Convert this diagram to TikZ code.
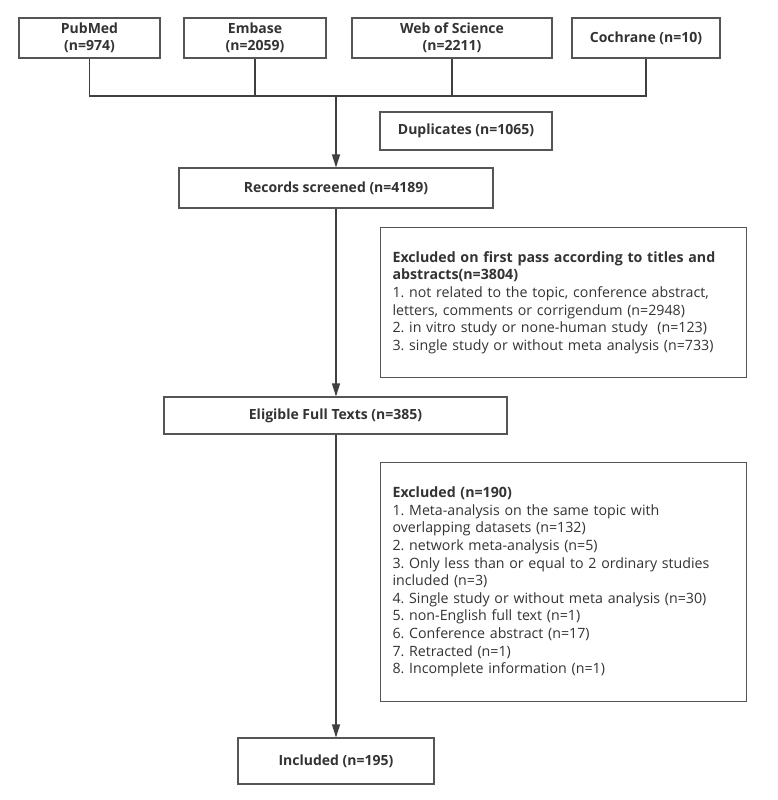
\documentclass[tikz,border=0pt]{standalone}
\usepackage{fontspec}
\setmainfont{Open Sans}
\frenchspacing
\usetikzlibrary{arrows.meta}
\definecolor{txt}{HTML}{333333}
\definecolor{bord}{HTML}{555555}
\definecolor{ln}{HTML}{404040}
\begin{document}
\begin{tikzpicture}[x=1pt,y=-1pt,
  box/.style={draw=bord,line width=1.1pt,fill=white,text=txt,inner sep=0pt,align=center,
    font=\fontsize{14}{17.5}\selectfont\bfseries},
  listbox/.style={draw=bord,line width=1.1pt,fill=white,text=txt,inner xsep=12pt,inner ysep=0pt,
    align=left,anchor=north west,font=\fontsize{14.2}{17.6}\selectfont},
  conn/.style={draw=ln,line width=1.1pt},
  arr/.style={conn,-{Triangle[width=8pt,length=13pt]}}]
\useasboundingbox (0,0) rectangle (778,800);
\fill[white] (0,0) rectangle (778,800);
\node[box,minimum width=141pt,minimum height=40pt] (pub) at (89.5,38) {PubMed\\(n=974)};
\node[box,minimum width=142pt,minimum height=40pt] (emb) at (255,38) {Embase\\(n=2059)};
\node[box,minimum width=200pt,minimum height=40pt] (wos) at (452,38) {Web of Science\\(n=2211)};
\node[box,minimum width=148pt,minimum height=40pt] (coch) at (646,38) {Cochrane (n=10)};
\coordinate (hl) at (646,96);
\coordinate (jn) at (336,96);
\draw[conn] (pub.south) |- (hl) -- (coch.south);
\draw[conn] (emb.south) -- (emb.south |- hl);
\draw[conn] (wos.south) -- (wos.south |- hl);
\node[box,minimum width=172pt,minimum height=38pt] (dup) at (466,131) {Duplicates (n=1065)};
\node[box,minimum width=314pt,minimum height=40pt] (rec) at (336,188) {Records screened (n=4189)};
\draw[arr] (jn) -- (rec.north);
\node[listbox,minimum width=366pt,minimum height=150pt,text width=342pt] (ex1) at (380,227)
  {\textbf{Excluded on first pass according to titles and}\\
   \textbf{abstracts(n=3804)}\\
   1. not related to the topic, conference abstract,\\
   letters, comments or corrigendum (n=2948)\\
   2. in vitro study or none-human study\ \ (n=123)\\
   3. single study or without meta analysis (n=733)};
\node[box,minimum width=343pt,minimum height=37pt] (elig) at (335.5,415.5) {Eligible Full Texts (n=385)};
\draw[arr] (rec.south) -- (rec.south |- elig.north);
\node[listbox,minimum width=366pt,minimum height=239pt,text width=342pt] (ex2) at (380,462)
  {\textbf{Excluded (n=190)}\\
   1. Meta-analysis on the same topic with\\
   overlapping datasets (n=132)\\
   2. network meta-analysis (n=5)\\
   3. Only less than or equal to 2 ordinary studies\\
   included (n=3)\\
   4. Single study or without meta analysis (n=30)\\
   5. non-English full text (n=1)\\
   6. Conference abstract (n=17)\\
   7. Retracted (n=1)\\
   8. Incomplete information (n=1)};
\node[box,minimum width=196pt,minimum height=46pt] (inc) at (336,761) {Included (n=195)};
\draw[arr] (rec.south |- elig.south) -- (rec.south |- inc.north);
\end{tikzpicture}
\end{document}
